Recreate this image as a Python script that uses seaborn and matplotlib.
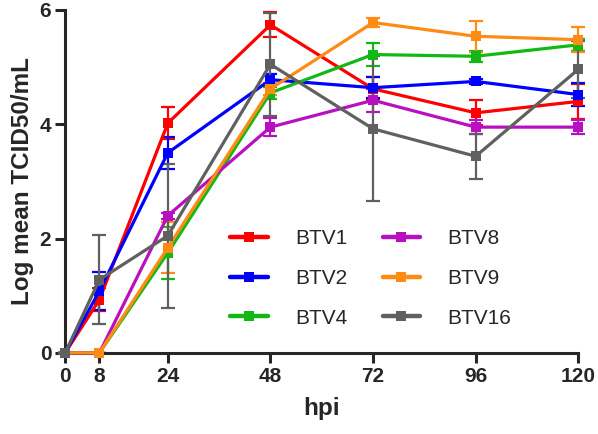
import numpy as np
import pandas as pd
import matplotlib
matplotlib.use("Agg")
import matplotlib.pyplot as plt
import seaborn as sns

# time points (hours post infection)
hpi = [0, 8, 24, 48, 72, 96, 120]

# log mean TCID50/mL per serotype
btv1 = [0, 0.93, 4.02, 5.74, 4.62, 4.20, 4.40]
btv2 = [0, 1.08, 3.50, 4.78, 4.64, 4.75, 4.52]
btv4 = [0, 0.00, 1.75, 4.55, 5.22, 5.19, 5.39]
btv8 = [0, 0.00, 2.40, 3.95, 4.42, 3.95, 3.95]
btv9 = [0, 0.00, 1.84, 4.62, 5.78, 5.54, 5.48]
btv16 = [0, 1.28, 2.05, 5.05, 3.92, 3.44, 4.96]

# standard deviations
sd1 = [0, 0.20, 0.28, 0.22, 0.20, 0.22, 0.30]
sd2 = [0, 0.33, 0.28, 0.10, 0.18, 0.05, 0.20]
sd4 = [0, 0.00, 0.45, 0.10, 0.20, 0.10, 0.10]
sd8 = [0, 0.00, 0.05, 0.16, 0.20, 0.12, 0.12]
sd9 = [0, 0.00, 0.45, 0.10, 0.08, 0.27, 0.22]
sd16 = [0, 0.78, 1.26, 0.90, 1.27, 0.39, 0.50]

serotypes = ["BTV1", "BTV2", "BTV4", "BTV8", "BTV9", "BTV16"]
means = [btv1, btv2, btv4, btv8, btv9, btv16]
sds = [sd1, sd2, sd4, sd8, sd9, sd16]
colors = ["#ff0000", "#0000ff", "#14b814", "#b80fc0", "#ff8a14", "#606060"]

rows = []
for name, m, s in zip(serotypes, means, sds):
    for t, v, e in zip(hpi, m, s):
        rows.append({"hpi": t, "titer": v, "sd": e, "serotype": name})
df = pd.DataFrame(rows)

sns.set_style("ticks")
plt.rcParams["font.family"] = ["Liberation Sans", "DejaVu Sans"]

fig, ax = plt.subplots(figsize=(5.98, 4.34), dpi=100)
fig.subplots_adjust(left=0.109, right=0.967, top=0.977, bottom=0.187)

palette = dict(zip(serotypes, colors))
sns.lineplot(data=df, x="hpi", y="titer", hue="serotype", palette=palette,
             marker="s", markersize=7.5, markeredgewidth=0, linewidth=2.3,
             ax=ax, clip_on=False, zorder=3)

for name, c in zip(serotypes, colors):
    sub = df[df["serotype"] == name]
    ax.errorbar(sub["hpi"], sub["titer"], yerr=sub["sd"], fmt="none",
                ecolor=c, elinewidth=1.6, capsize=5, capthick=1.6,
                clip_on=False, zorder=2)

ax.set_xlim(0, 120)
ax.set_ylim(0, 6)
ax.set_xticks(hpi)
ax.set_yticks([0, 2, 4, 6])
ax.tick_params(width=2.2, length=7, labelsize=15, pad=3)
for lbl in ax.get_xticklabels() + ax.get_yticklabels():
    lbl.set_fontweight("bold")
for sp in ["left", "bottom"]:
    ax.spines[sp].set_linewidth(2.2)
sns.despine(ax=ax)

ax.set_xlabel("hpi", fontsize=17.5, fontweight="bold", labelpad=8)
ax.set_ylabel("Log mean TCID50/mL", fontsize=17.5, fontweight="bold", labelpad=4)

handles, labels = ax.get_legend_handles_labels()
leg = ax.legend(handles, labels, ncol=2, frameon=False, fontsize=15,
                loc="upper left", bbox_to_anchor=(0.322, 0.361),
                borderaxespad=0, borderpad=0,
                handlelength=1.8, columnspacing=1.7, labelspacing=1.0,
                handletextpad=1.3)
for h in leg.legend_handles:
    h.set_linewidth(3.2)
    h.set_markersize(7)

fig.savefig("out.png", dpi=100)
